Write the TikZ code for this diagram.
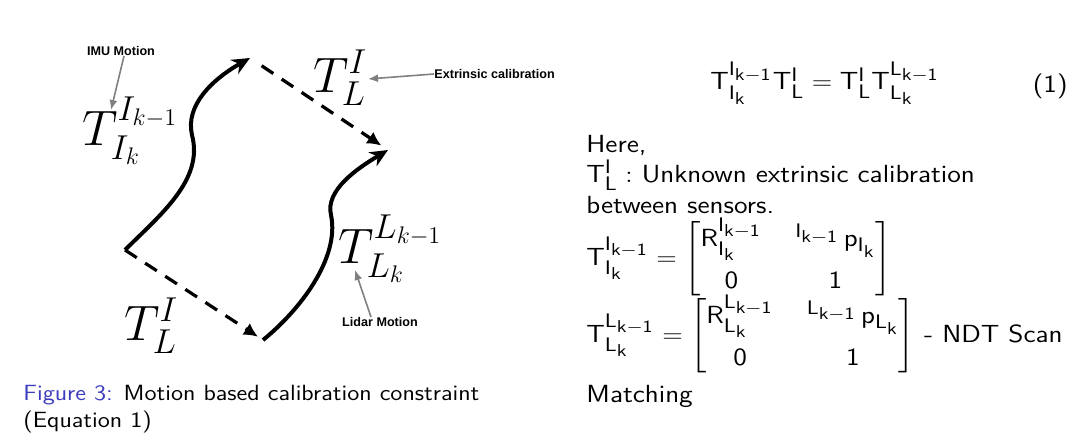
\documentclass[tikz,border=0pt]{standalone}
\usepackage{amsmath,amssymb}
\usepackage{fontspec}
\newfontfamily\arialfont{Liberation Sans}
\usetikzlibrary{arrows.meta,positioning}
\definecolor{figblue}{RGB}{60,60,190}
\DeclareMathSizes{12.4}{12.4}{9.8}{8.6}
\newcommand{\sw}[1]{\scalebox{1.12}[1]{#1}}
\newcommand{\sfT}[2]{\mathsf{T}^{#1}_{#2}}
\newcommand{\Ik}{\mathsf{I}_{\mathsf{k}}}
\newcommand{\Ikm}{\mathsf{I}_{\mathsf{k}-\mathsf{1}}}
\newcommand{\Lk}{\mathsf{L}_{\mathsf{k}}}
\newcommand{\Lkm}{\mathsf{L}_{\mathsf{k}-\mathsf{1}}}
\setlength{\arraycolsep}{7.4pt}
\renewcommand{\arraystretch}{1.3}

\begin{document}
\begin{tikzpicture}[>=Stealth,x=0.5pt,y=-0.5pt,font=\sffamily\fontsize{12.4}{15}\selectfont]
\tikzstyle{motion}=[line width=2pt,-{Stealth[length=9pt,width=8pt]}]
\tikzstyle{calib}=[line width=1.6pt,dash pattern=on 7pt off 5pt,-{Latex[length=7pt,width=7pt]}]
\tikzstyle{pointer}=[gray,line width=0.8pt,-{Latex[length=5pt,width=4pt]}]
\tikzstyle{tag}=[font=\arialfont\bfseries\fontsize{6.3}{7}\selectfont,inner sep=0pt]
\tikzstyle{sym}=[font=\fontsize{24}{28}\selectfont,inner sep=0pt,anchor=base west]
\tikzstyle{txt}=[inner sep=0pt,anchor=base west]
\useasboundingbox (0,0) rectangle (1091,444);
% sensor frames
\coordinate (ik) at (125,250);
\coordinate (ik1) at (250,58);
\coordinate (lk) at (263,340);
\coordinate (lk1) at (388,150);
\draw[motion] (ik) .. controls (160,215) and (204,180) .. (192,135) .. controls (185,105) and (213,79) .. (ik1);
\draw[motion] (lk) .. controls (300,310) and (340,258) .. (331,215) .. controls (325,190) and (358,168) .. (lk1);
\draw[calib,shorten <=7pt,shorten >=4pt] (ik1) -- (lk1);
\draw[calib,shorten >=3pt] (ik) -- (lk);
\node[sym] (timu) at (82,145) {$T^{I_{k-1}}_{I_k}$};
\node[sym] (tcal) at (313,92) {$T^I_L$};
\node[sym] (tlid) at (338,263) {$T^{L_{k-1}}_{L_k}$};
\node[sym] (tcalb) at (124,340) {$T^I_L$};
% annotations
\node[tag] (imu) at (121,51) {IMU Motion};
\node[tag,anchor=west] (ext) at (434,74) {Extrinsic calibration};
\node[tag] (lid) at (380,322) {Lidar Motion};
\coordinate (imutip) at (111,110);
\coordinate (exttip) at (368,79);
\coordinate (lidtip) at (355,270);
\draw[pointer] ([xshift=1.5pt]imu.south) -- (imutip);
\draw[pointer] (ext.west) -- (exttip);
\draw[pointer] ([xshift=-4.5pt]lid.north) -- (lidtip);
\node[txt,font=\sffamily\fontsize{11}{13.5}\selectfont] (cap) at (23,400) {\sw{\textcolor{figblue}{Figure 3:} Motion based calibration constraint}};
\node[txt,font=\sffamily\fontsize{11}{13.5}\selectfont] (capb) at (23,427) {\sw{(Equation 1)}};
% right column
\node[inner sep=0pt,anchor=base] (eq) at (825,90) {\sw{$\sfT{\Ikm}{\Ik}\sfT{\mathsf{I}}{\mathsf{L}} = \sfT{\mathsf{I}}{\mathsf{L}}\sfT{\Lkm}{\Lk}$}};
\node[inner sep=0pt,anchor=base east] (eqno) at (1068,92) {\sw{(1)}};
\node[txt] (here) at (586,152) {\sw{Here,}};
\node[txt] (def) at (586,182) {\sw{$\sfT{\mathsf{I}}{\mathsf{L}}:$ Unknown extrinsic calibration}};
\node[txt] (betw) at (586,213) {\sw{between sensors.}};
\node[txt] (rimu) at (586,265) {\sw{$\sfT{\Ikm}{\Ik} = \begin{bmatrix} \mathsf{R}^{\Ikm}_{\Ik} & {}^{\Ikm}\,\mathsf{p}_{\Ik} \\ \mathsf{0} & \mathsf{1} \end{bmatrix}$}};
\node[txt] (rlid) at (586,342) {\sw{$\sfT{\Lkm}{\Lk} = \begin{bmatrix} \mathsf{R}^{\Lkm}_{\Lk} & {}^{\Lkm}\,\mathsf{p}_{\Lk} \\ \mathsf{0} & \mathsf{1} \end{bmatrix}$ - NDT Scan}};
\node[txt] (match) at (586,402) {\sw{Matching}};
\end{tikzpicture}
\end{document}
